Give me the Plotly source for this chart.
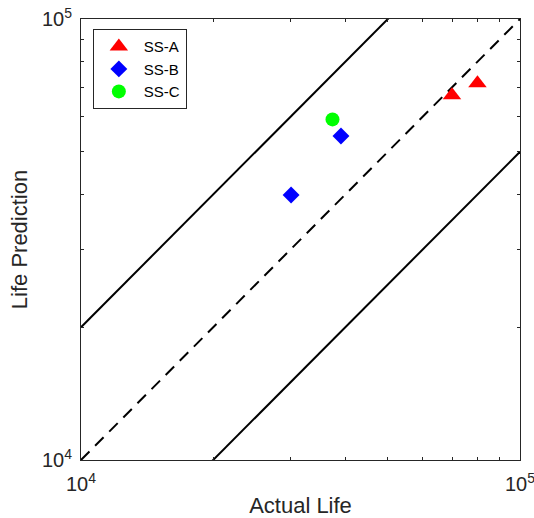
import plotly.graph_objects as go

# Data
ssa_actual = [70000, 80000]
ssa_pred = [67200, 71500]
ssb_actual = [30100, 39100]
ssb_pred = [39900, 54300]
ssc_actual = [37400]
ssc_pred = [59200]

line_x = [1e4, 1e5]
band_factors = [2.0, 0.5]
major_ticks = [1e4, 1e5]
major_labels = ["10<sup>4</sup>", "10<sup>5</sup>"]
minor_ticks = [2e4, 3e4, 4e4, 5e4, 6e4, 7e4, 8e4, 9e4]

FONT = "Liberation Sans"
TXT = "#262626"

fig = go.Figure()

fig.add_trace(go.Scatter(x=line_x, y=line_x, mode="lines",
                         line=dict(color="black", width=2, dash="12px,8px"),
                         showlegend=False, hoverinfo="skip"))
for f in band_factors:
    fig.add_trace(go.Scatter(x=line_x, y=[v * f for v in line_x], mode="lines",
                             line=dict(color="black", width=2),
                             showlegend=False, hoverinfo="skip"))

fig.add_trace(go.Scatter(x=ssa_actual, y=ssa_pred, mode="markers", name="SS-A",
                         marker=dict(symbol="triangle-up", color="red", size=16)))
fig.add_trace(go.Scatter(x=ssb_actual, y=ssb_pred, mode="markers", name="SS-B",
                         marker=dict(symbol="diamond", color="blue", size=13)))
fig.add_trace(go.Scatter(x=ssc_actual, y=ssc_pred, mode="markers", name="SS-C",
                         marker=dict(symbol="circle", color="#00ff00", size=14)))

axis_common = dict(
    type="log",
    range=[4, 5],
    tickmode="array",
    tickvals=major_ticks,
    ticktext=major_labels,
    ticks="inside",
    ticklen=5,
    tickcolor=TXT,
    showline=True,
    linecolor=TXT,
    linewidth=1,
    mirror="ticks",
    showgrid=False,
    zeroline=False,
    automargin=False,
    ticklabeloverflow="allow",
    tickfont=dict(family=FONT, size=20, color=TXT),
    minor=dict(ticks="inside", ticklen=3, tickcolor=TXT,
               tickvals=minor_ticks, showgrid=False),
)

fig.update_xaxes(**axis_common)
fig.update_yaxes(**axis_common)
fig.update_xaxes(ticklabelstandoff=6, title_text="Actual Life", title_standoff=5,
                 title_font=dict(family=FONT, size=22, color=TXT))
fig.update_yaxes(ticklabelstandoff=4, title_text="Life Prediction", title_standoff=8,
                 title_font=dict(family=FONT, size=22, color=TXT))

fig.update_layout(
    width=534, height=518,
    font=dict(family=FONT, size=20, color=TXT),
    margin=dict(l=81, r=14, t=19, b=58),
    plot_bgcolor="white", paper_bgcolor="white",
    legend=dict(x=0.027, y=0.977, xanchor="left", yanchor="top",
                bgcolor="white", bordercolor=TXT, borderwidth=1,
                font=dict(family=FONT, size=15, color="black"),
                itemwidth=40,
                itemsizing="trace", tracegroupgap=0),
)

fig.write_html("out.html")
